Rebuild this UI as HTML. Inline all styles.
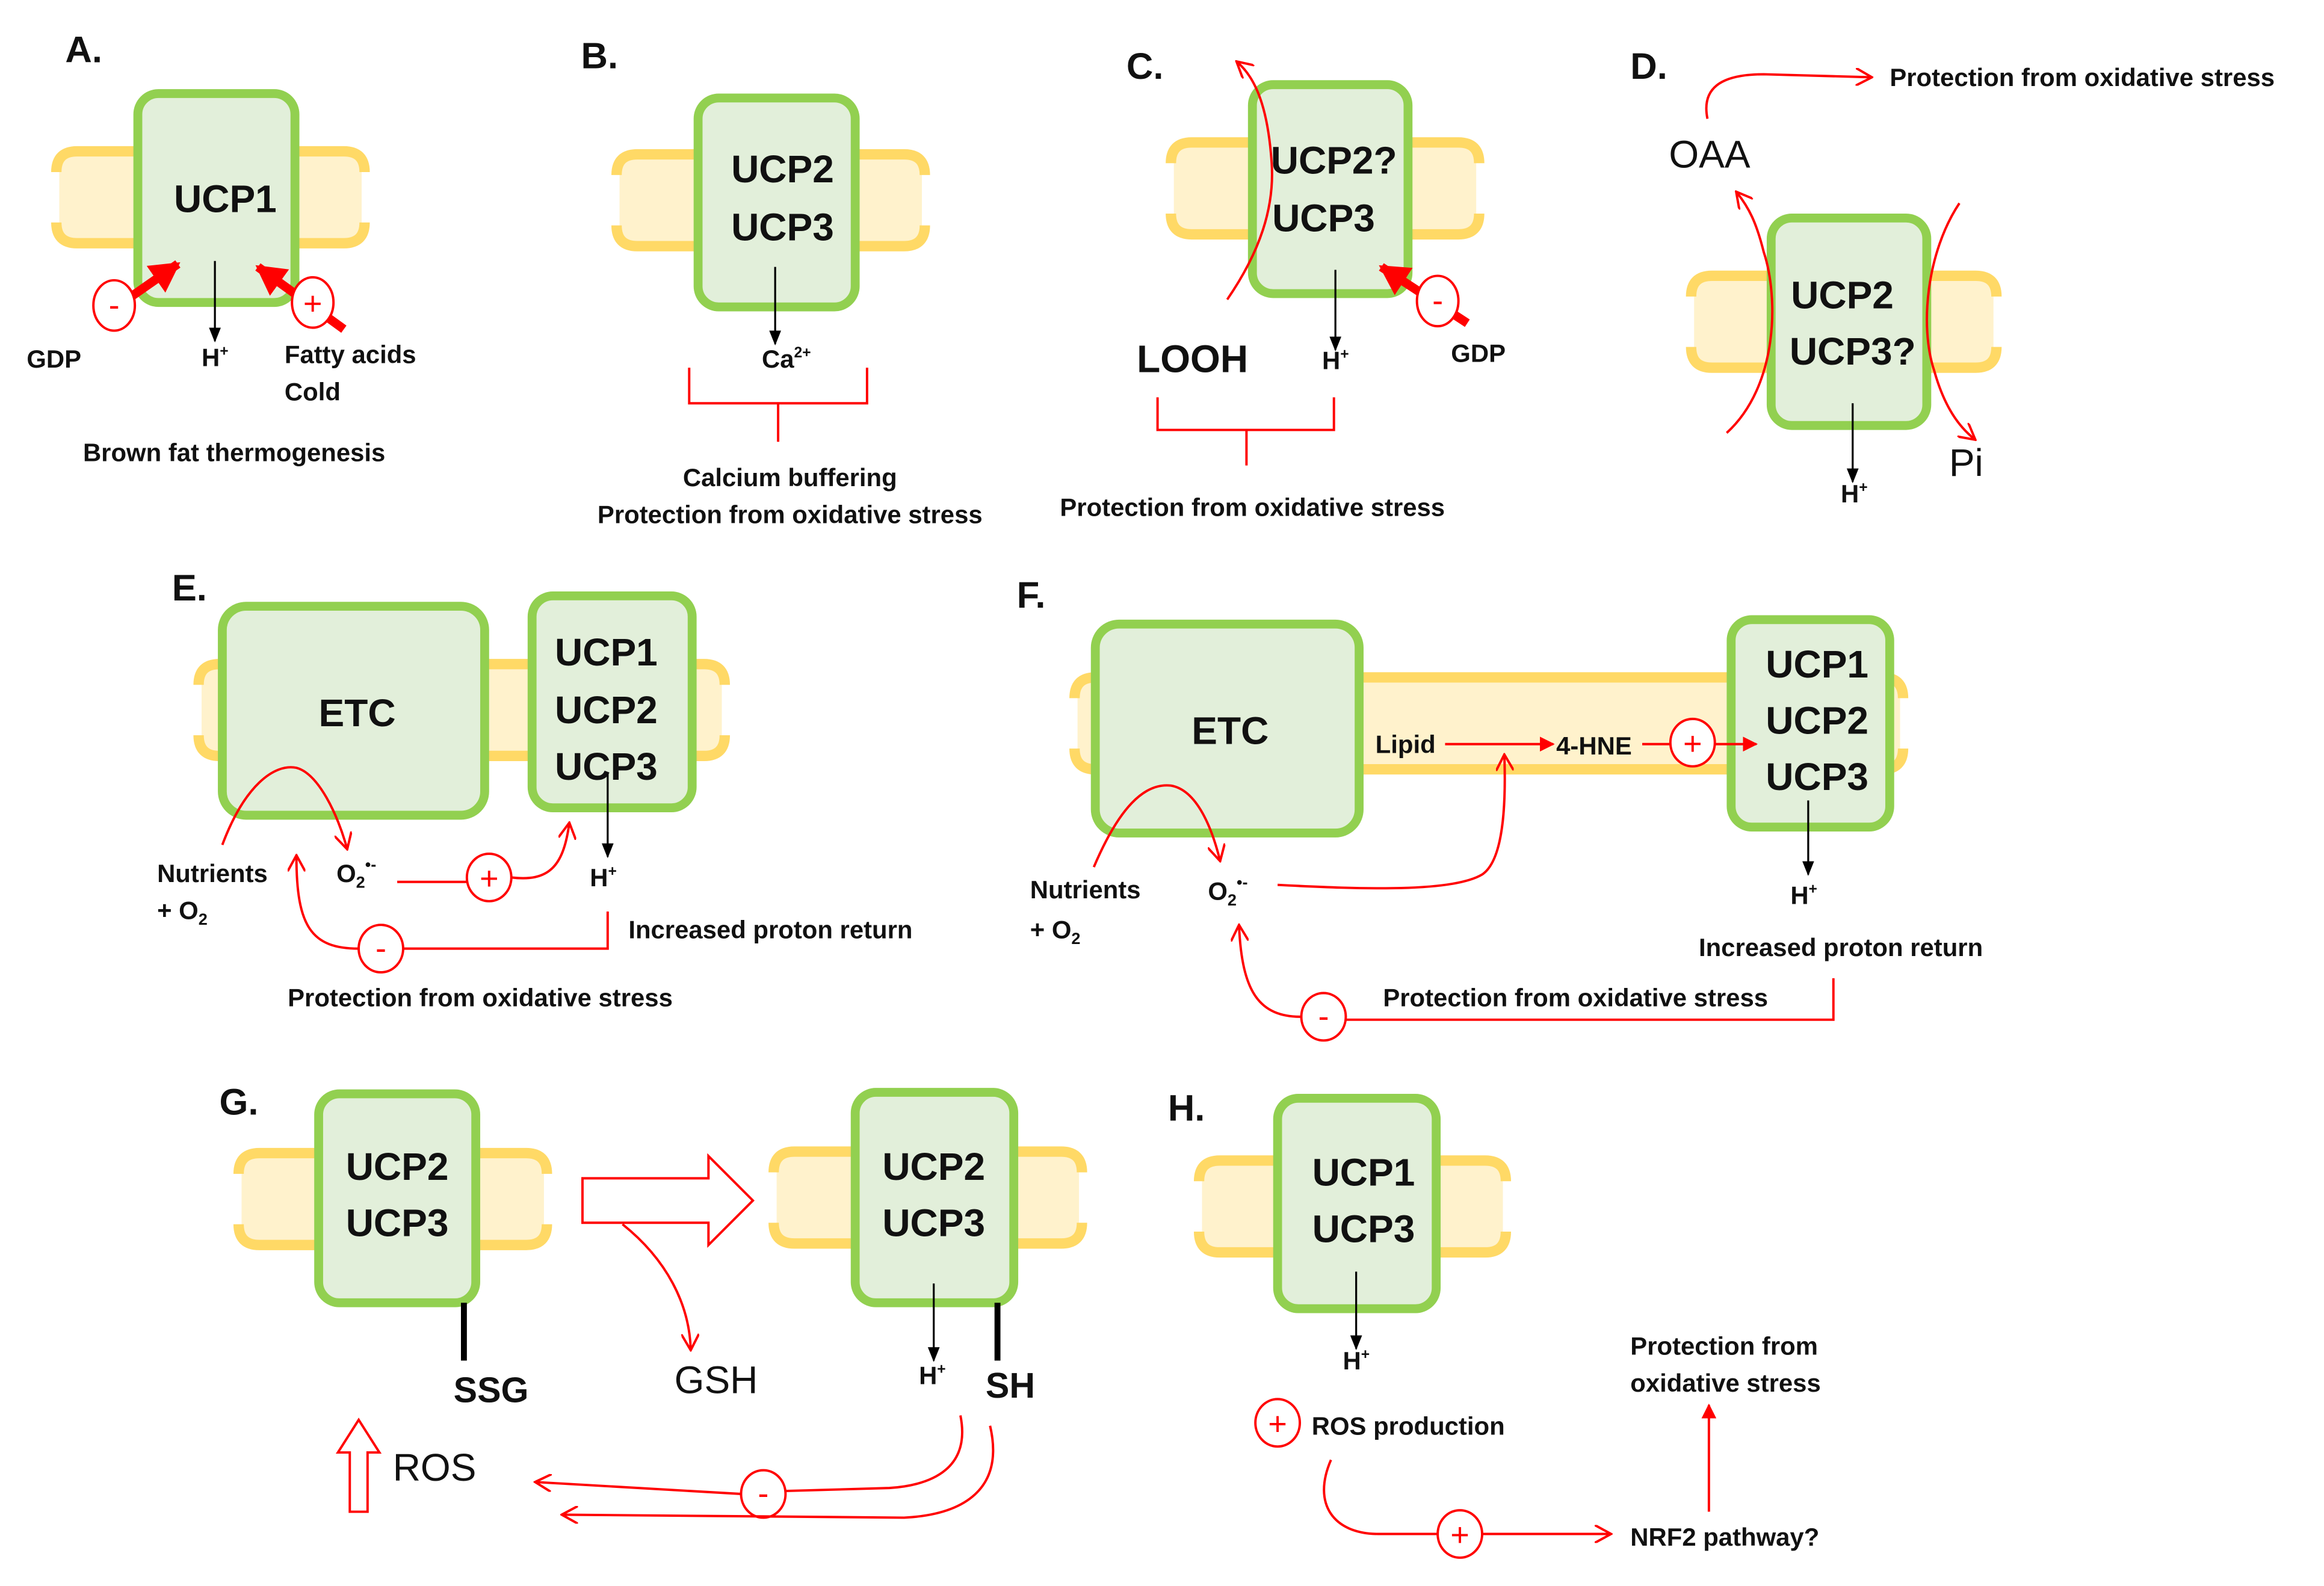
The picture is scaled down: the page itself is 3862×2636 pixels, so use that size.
<!DOCTYPE html>
<html><head><meta charset="utf-8"><style>
html,body{margin:0;padding:0;background:#fff;}
svg{display:block;}
text{font-family:"Liberation Sans",sans-serif;}
.s{font-size:17px;font-weight:bold;fill:#111;}
.u{font-size:26px;font-weight:bold;fill:#111;text-anchor:middle;}
.L{font-size:25px;font-weight:bold;fill:#111;}
.n{font-size:26px;fill:#111;}
.mf{fill:#FFF2CC;}
.ms{fill:none;stroke:#FFD966;stroke-width:7;}
.box{fill:#E2EFDA;stroke:#92D050;stroke-width:6;}
.r{fill:none;stroke:#FF0000;stroke-width:1.6;}
.k{fill:none;stroke:#000;stroke-width:1.3;}
.c{fill:#fff;stroke:#FF0000;stroke-width:1.6;}
.ct{font-size:22px;fill:#FF0000;text-anchor:middle;}
</style></head><body>
<svg width="3862" height="2636" viewBox="0 0 1568 1070" xmlns="http://www.w3.org/2000/svg">
<defs>
<marker id="ar" markerWidth="10" markerHeight="10" refX="9" refY="5" orient="auto" markerUnits="userSpaceOnUse"><path d="M0,0 L10,5 L0,10 Z" fill="#FF0000"/></marker>
<marker id="ao" markerWidth="12" markerHeight="12" refX="10" refY="6" orient="auto" markerUnits="userSpaceOnUse"><path d="M0,0 L11,6 L0,12" fill="none" stroke="#FF0000" stroke-width="1.6"/></marker>
<marker id="ak" markerWidth="10" markerHeight="10" refX="9" refY="5" orient="auto" markerUnits="userSpaceOnUse"><path d="M0,1 L10,5 L0,9 Z" fill="#000"/></marker>
<marker id="abig" markerWidth="22" markerHeight="22" refX="18" refY="11" orient="auto" markerUnits="userSpaceOnUse"><path d="M0,0 L20,11 L0,22 Z" fill="#FF0000"/></marker>
</defs>

<!-- membranes -->
<rect class="mf" x="40" y="104" width="204" height="58"/>
<path class="ms" d="M38,116 Q38,102 52,102 H232 Q246,102 246,116 M38,150 Q38,164 52,164 H232 Q246,164 246,150"/>
<rect class="mf" x="418" y="106" width="204" height="58"/>
<path class="ms" d="M416,118 Q416,104 430,104 H610 Q624,104 624,118 M416,152 Q416,166 430,166 H610 Q624,166 624,152"/>
<rect class="mf" x="792" y="98" width="204" height="58"/>
<path class="ms" d="M790,110 Q790,96 804,96 H984 Q998,96 998,110 M790,144 Q790,158 804,158 H984 Q998,158 998,144"/>
<rect class="mf" x="1143" y="188" width="202" height="58"/>
<path class="ms" d="M1141,200 Q1141,186 1155,186 H1333 Q1347,186 1347,200 M1141,234 Q1141,248 1155,248 H1333 Q1347,248 1347,234"/>
<rect class="mf" x="136" y="450" width="351" height="58"/>
<path class="ms" d="M134,462 Q134,448 148,448 H475 Q489,448 489,462 M134,496 Q134,510 148,510 H475 Q489,510 489,496"/>
<rect class="mf" x="727" y="459" width="555" height="58"/>
<path class="ms" d="M725,471 Q725,457 739,457 H1270 Q1284,457 1284,471 M725,505 Q725,519 739,519 H1270 Q1284,519 1284,505"/>
<rect class="mf" x="163" y="780" width="204" height="58"/>
<path class="ms" d="M161,792 Q161,778 175,778 H355 Q369,778 369,792 M161,826 Q161,840 175,840 H355 Q369,840 369,826"/>
<rect class="mf" x="524" y="779" width="204" height="58"/>
<path class="ms" d="M522,791 Q522,777 536,777 H716 Q730,777 730,791 M522,825 Q522,839 536,839 H716 Q730,839 730,825"/>
<rect class="mf" x="811" y="785" width="203" height="58"/>
<path class="ms" d="M809,797 Q809,783 823,783 H1002 Q1016,783 1016,797 M809,831 Q809,845 823,845 H1002 Q1016,845 1016,831"/>

<!-- A -->
<text class="L" x="44" y="42">A.</text>
<rect class="box" x="93" y="63" width="106" height="141" rx="14"/>
<text class="u" x="152" y="143">UCP1</text>
<line class="k" x1="145" y1="176" x2="145" y2="230" marker-end="url(#ak)"/>
<text class="s" x="136" y="247">H<tspan font-size="10" dy="-7">+</tspan></text>
<line x1="80" y1="206" x2="120" y2="178" stroke="#FF0000" stroke-width="6" marker-end="url(#abig)"/>
<line x1="232" y1="222" x2="174" y2="180" stroke="#FF0000" stroke-width="6" marker-end="url(#abig)"/>
<ellipse class="c" cx="77" cy="206" rx="14" ry="17"/><text class="ct" x="77" y="213">-</text>
<ellipse class="c" cx="211" cy="204" rx="14" ry="17"/><text class="ct" x="211" y="212">+</text>
<text class="s" x="18" y="248">GDP</text>
<text class="s" x="192" y="245">Fatty acids</text>
<text class="s" x="192" y="270">Cold</text>
<text class="s" x="158" y="311" text-anchor="middle">Brown fat thermogenesis</text>

<!-- B -->
<text class="L" x="392" y="46">B.</text>
<rect class="box" x="471" y="66" width="106" height="141" rx="14"/>
<text class="u" x="528" y="123">UCP2</text>
<text class="u" x="528" y="162">UCP3</text>
<line class="k" x1="523" y1="180" x2="523" y2="232" marker-end="url(#ak)"/>
<text class="s" x="514" y="248">Ca<tspan font-size="10" dy="-7">2+</tspan></text>
<path class="r" d="M465,248 V272 H525 V298 M525,272 H585 V248" stroke-width="1.2"/>
<text class="s" x="533" y="328" text-anchor="middle">Calcium buffering</text>
<text class="s" x="533" y="353" text-anchor="middle">Protection from oxidative stress</text>

<!-- C -->
<text class="L" x="760" y="53">C.</text>
<rect class="box" x="845" y="57" width="105" height="141" rx="14"/>
<text class="u" x="900" y="117">UCP2?</text>
<text class="u" x="893" y="156">UCP3</text>
<path class="r" d="M828,202 C850,170 860,140 858,110 C856,80 850,55 835,42" marker-end="url(#ao)"/>
<line class="k" x1="901" y1="182" x2="901" y2="236" marker-end="url(#ak)"/>
<text class="s" x="892" y="249">H<tspan font-size="10" dy="-7">+</tspan></text>
<line x1="990" y1="218" x2="932" y2="180" stroke="#FF0000" stroke-width="6" marker-end="url(#abig)"/>
<ellipse class="c" cx="970" cy="203" rx="14" ry="17"/><text class="ct" x="970" y="210">-</text>
<text class="s" x="979" y="244">GDP</text>
<text x="767" y="251" style="font-size:26px;font-weight:bold;fill:#111">LOOH</text>
<path class="r" d="M781,268 V290 H841 V314 M841,290 H900 V268" stroke-width="1.2"/>
<text class="s" x="845" y="348" text-anchor="middle">Protection from oxidative stress</text>

<!-- D -->
<text class="L" x="1100" y="53">D.</text>
<text class="n" x="1126" y="113">OAA</text>
<path class="r" d="M1152,80 C1148,60 1160,50 1190,50 L1262,52" marker-end="url(#ao)"/>
<text class="s" x="1275" y="58">Protection from oxidative stress</text>
<rect class="box" x="1195" y="147" width="105" height="140" rx="14"/>
<text class="u" x="1243" y="208">UCP2</text>
<text class="u" x="1250" y="246">UCP3?</text>
<path class="r" d="M1165,292 C1200,260 1200,200 1190,170 C1185,150 1180,140 1172,130" marker-end="url(#ao)"/>
<path class="r" d="M1322,137 C1300,170 1295,220 1305,250 C1312,275 1322,288 1332,296" marker-end="url(#ao)"/>
<text class="n" x="1315" y="321">Pi</text>
<line class="k" x1="1250" y1="272" x2="1250" y2="325" marker-end="url(#ak)"/>
<text class="s" x="1242" y="339">H<tspan font-size="10" dy="-7">+</tspan></text>

<!-- E -->
<text class="L" x="116" y="405">E.</text>
<rect class="box" x="150" y="409" width="177" height="141" rx="16"/>
<text class="u" x="241" y="490">ETC</text>
<rect class="box" x="359" y="402" width="108" height="143" rx="14"/>
<text class="u" x="409" y="449">UCP1</text>
<text class="u" x="409" y="488">UCP2</text>
<text class="u" x="409" y="526">UCP3</text>
<path class="r" d="M150,570 C165,530 185,515 200,518 C215,522 228,550 234,572" marker-end="url(#ao)"/>
<text class="s" x="106" y="595">Nutrients</text>
<text class="s" x="106" y="620">+ O<tspan font-size="11" dy="4">2</tspan></text>
<text class="s" x="227" y="595">O<tspan font-size="11" dy="4">2</tspan><tspan font-size="11" dy="-12">•-</tspan></text>
<path class="r" d="M268,595 L315,595"/>
<ellipse class="c" cx="330" cy="592" rx="15" ry="16"/><text class="ct" x="330" y="600">+</text>
<path class="r" d="M345,592 C370,595 380,585 384,556" marker-end="url(#ao)"/>
<line class="k" x1="410" y1="522" x2="410" y2="578" marker-end="url(#ak)"/>
<text class="s" x="398" y="598">H<tspan font-size="10" dy="-7">+</tspan></text>
<path class="r" d="M410,615 V640 H272"/>
<ellipse class="c" cx="257" cy="640" rx="15" ry="16"/><text class="ct" x="257" y="647">-</text>
<path class="r" d="M242,640 C210,640 200,625 200,578" marker-end="url(#ao)"/>
<text class="s" x="424" y="633">Increased proton return</text>
<text class="s" x="324" y="679" text-anchor="middle">Protection from oxidative stress</text>

<!-- F -->
<text class="L" x="686" y="410">F.</text>
<rect class="box" x="739" y="421" width="178" height="141" rx="16"/>
<text class="u" x="830" y="502">ETC</text>
<rect class="box" x="1168" y="418" width="107" height="140" rx="14"/>
<text class="u" x="1226" y="457">UCP1</text>
<text class="u" x="1226" y="495">UCP2</text>
<text class="u" x="1226" y="533">UCP3</text>
<text class="s" x="928" y="508">Lipid</text>
<line class="r" x1="975" y1="502" x2="1048" y2="502" marker-end="url(#ar)"/>
<text class="s" x="1050" y="509">4-HNE</text>
<line class="r" x1="1108" y1="502" x2="1127" y2="502"/>
<ellipse class="c" cx="1142" cy="501" rx="15" ry="16"/><text class="ct" x="1142" y="509">+</text>
<line class="r" x1="1157" y1="502" x2="1185" y2="502" marker-end="url(#ar)"/>
<path class="r" d="M738,585 C755,545 772,528 790,530 C808,533 818,560 823,580" marker-end="url(#ao)"/>
<text class="s" x="695" y="606">Nutrients</text>
<text class="s" x="695" y="633">+ O<tspan font-size="11" dy="4">2</tspan></text>
<text class="s" x="815" y="607">O<tspan font-size="11" dy="4">2</tspan><tspan font-size="11" dy="-12">•-</tspan></text>
<path class="r" d="M862,597 C920,600 980,602 1000,590 C1015,580 1016,540 1015,510" marker-end="url(#ao)"/>
<line class="k" x1="1220" y1="540" x2="1220" y2="590" marker-end="url(#ak)"/>
<text class="s" x="1208" y="610">H<tspan font-size="10" dy="-7">+</tspan></text>
<text class="s" x="1242" y="645" text-anchor="middle">Increased proton return</text>
<path class="r" d="M1237,660 V688 H908"/>
<ellipse class="c" cx="893" cy="686" rx="15" ry="16"/><text class="ct" x="893" y="693">-</text>
<path class="r" d="M878,686 C850,686 838,670 836,625" marker-end="url(#ao)"/>
<text class="s" x="1063" y="679" text-anchor="middle">Protection from oxidative stress</text>

<!-- G -->
<text class="L" x="148" y="752">G.</text>
<rect class="box" x="215" y="738" width="106" height="141" rx="14"/>
<text class="u" x="268" y="796">UCP2</text>
<text class="u" x="268" y="834">UCP3</text>
<line x1="313" y1="879" x2="313" y2="918" stroke="#000" stroke-width="4"/>
<text x="306" y="946" style="font-size:24px;font-weight:bold;fill:#111">SSG</text>
<polygon points="393,795 478,795 478,780 508,810 478,840 478,825 393,825" fill="none" stroke="#FF0000" stroke-width="1.6"/>
<path class="r" d="M420,826 C450,850 465,880 466,910" marker-end="url(#ao)"/>
<text class="n" x="455" y="940">GSH</text>
<rect class="box" x="577" y="737" width="107" height="142" rx="14"/>
<text class="u" x="630" y="796">UCP2</text>
<text class="u" x="630" y="834">UCP3</text>
<line class="k" x1="630" y1="866" x2="630" y2="918" marker-end="url(#ak)"/>
<text class="s" x="620" y="934">H<tspan font-size="10" dy="-7">+</tspan></text>
<line x1="673" y1="879" x2="673" y2="918" stroke="#000" stroke-width="4"/>
<text x="665" y="943" style="font-size:24px;font-weight:bold;fill:#111">SH</text>
<polygon points="242,958 256,980 248,980 248,1020 236,1020 236,980 228,980" fill="none" stroke="#FF0000" stroke-width="1.6"/>
<text class="n" x="265" y="999">ROS</text>
<path class="r" d="M648,955 C655,990 630,1002 600,1004 L530,1006"/>
<ellipse class="c" cx="515" cy="1008" rx="15" ry="16"/><text class="ct" x="515" y="1015">-</text>
<path class="r" d="M500,1008 L362,1000" marker-end="url(#ao)"/>
<path class="r" d="M668,962 C678,1005 650,1022 610,1024 L380,1022" marker-end="url(#ao)"/>

<!-- H -->
<text class="L" x="788" y="756">H.</text>
<rect class="box" x="862" y="741" width="107" height="142" rx="14"/>
<text class="u" x="920" y="800">UCP1</text>
<text class="u" x="920" y="838">UCP3</text>
<line class="k" x1="915" y1="858" x2="915" y2="910" marker-end="url(#ak)"/>
<text class="s" x="906" y="924">H<tspan font-size="10" dy="-7">+</tspan></text>
<ellipse class="c" cx="862" cy="960" rx="15" ry="16"/><text class="ct" x="862" y="968">+</text>
<text class="s" x="885" y="968">ROS production</text>
<path class="r" d="M898,985 C885,1015 900,1035 930,1035 L970,1035"/>
<ellipse class="c" cx="985" cy="1035" rx="15" ry="16"/><text class="ct" x="985" y="1043">+</text>
<line class="r" x1="1000" y1="1035" x2="1086" y2="1035" marker-end="url(#ao)"/>
<text class="s" x="1100" y="1043">NRF2 pathway?</text>
<line class="r" x1="1153" y1="1020" x2="1153" y2="948" marker-end="url(#ar)"/>
<text class="s" x="1100" y="914">Protection from</text>
<text class="s" x="1100" y="939">oxidative stress</text>
</svg>
</body></html>
